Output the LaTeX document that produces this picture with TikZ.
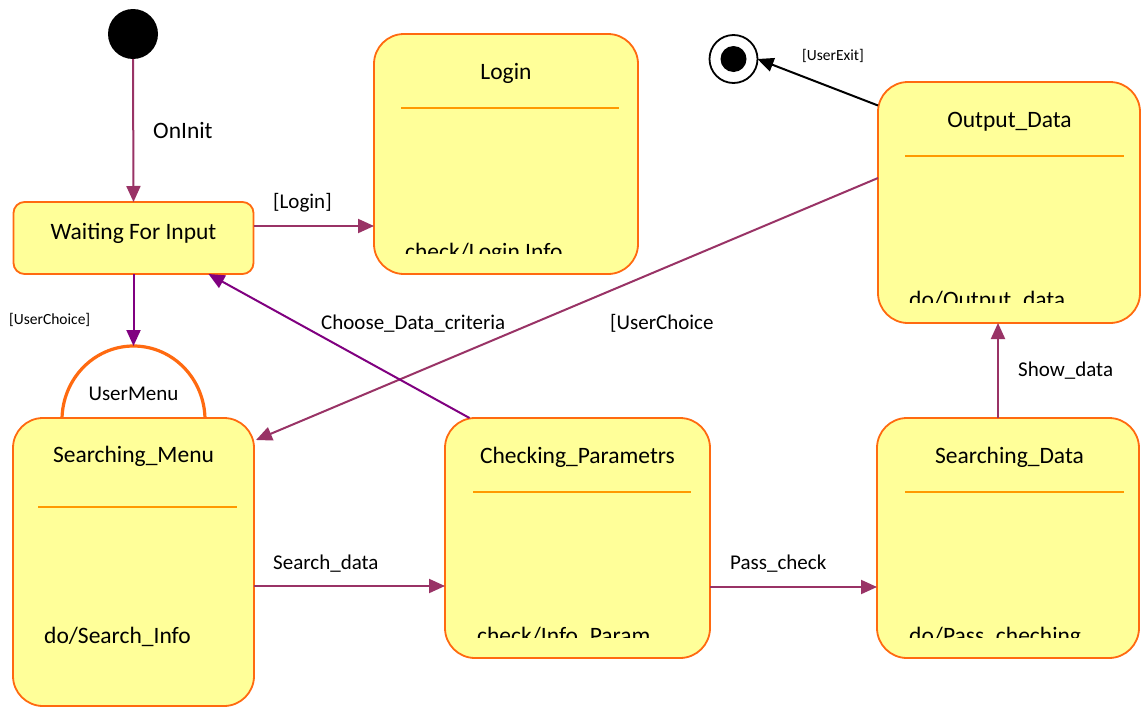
\documentclass[tikz,border=0pt]{standalone}
\usepackage{fontspec}
\setmainfont{Carlito}
\usetikzlibrary{arrows.meta,calc}
\definecolor{boxfill}{HTML}{FFFF99}
\definecolor{boxline}{HTML}{FF6A10}
\definecolor{sepline}{HTML}{FF9900}
\definecolor{arrplum}{HTML}{993366}
\definecolor{arrpurp}{HTML}{800080}
\begin{document}
\begin{tikzpicture}[x=1pt,y=-1pt,
 state/.style={draw=boxline, fill=boxfill, line width=1.8pt, rounded corners=30pt, inner sep=0pt, outer sep=0pt},
 sep/.style={draw=sepline, line width=1.6pt},
 big/.style={font=\fontsize{23.5}{28}\selectfont, inner sep=0pt},
 lbl/.style={font=\fontsize{21}{25}\selectfont, inner sep=0pt},
 small/.style={font=\fontsize{15.5}{18}\selectfont, inner sep=0pt},
 tip/.style={-{Triangle[length=16pt,width=14pt]}},
 trans/.style={draw=arrplum, line width=2pt, tip},
 transp/.style={draw=arrpurp, line width=2pt, tip},
 transk/.style={draw=black, line width=2pt, tip}]
\useasboundingbox (0,0) rectangle (1141,707);
\fill[white] (0,0) rectangle (1141,707);

% initial and final states
\node[circle, fill=black, minimum size=50pt, inner sep=0pt, outer sep=0pt] (init) at (133,34) {};
\node[circle, draw=black, line width=1.8pt, fill=white, minimum size=48pt, inner sep=0pt, outer sep=0pt] (final) at (733.5,59) {};
\fill[black] (final.center) circle (13pt);

% states
\node[state, rounded corners=11pt, minimum width=240pt, minimum height=72pt] (wait) at (133.5,238) {};
\node[state, minimum width=264pt, minimum height=240pt] (login) at (506,154) {};
\node[state, minimum width=262pt, minimum height=241pt] (output) at (1009,202.5) {};
% user menu arc
\draw[draw=boxline, line width=3.2pt, fill=white] (62,420) arc[start angle=180, end angle=0, x radius=71.5pt, y radius=74pt];
\coordinate (menutop) at (133.5,346);
\node[state, minimum width=241pt, minimum height=288pt] (smenu) at (133.5,562) {};
\node[state, minimum width=265pt, minimum height=240pt] (check) at (577.5,538) {};
\node[state, minimum width=262pt, minimum height=240pt] (sdata) at (1008,538) {};

% separators
\draw[sep] (401,108) -- (619,108);
\draw[sep] (905,156) -- (1124,156);
\draw[sep] (38,507) -- (237,507);
\draw[sep] (473,492) -- (691,492);
\draw[sep] (905,492) -- (1124,492);

% titles
\node[big, anchor=base] (twait) at (133.5,239) {Waiting For Input};
\node[big, anchor=base] (tlogin) at (506,79) {Login};
\node[big, anchor=base] (toutput) at (1009.5,127) {Output\_Data};
\node[lbl, anchor=base] (tmenu) at (133.5,400) {UserMenu};
\node[big, anchor=base] (tsmenu) at (133.5,462) {Searching\_Menu};
\node[big, anchor=base] (tcheck) at (577.5,463) {Checking\_Parametrs};
\node[big, anchor=base] (tsdata) at (1009.5,463) {Searching\_Data};

% activity texts
\node[big, anchor=base west] (asmenu) at (44,643) {do/Search\_Info};
\begin{scope}
\clip (380,230) rectangle (630,253);
\node[big, anchor=base west] (alogin) at (405,259) {check/Login Info};
\end{scope}
\begin{scope}
\clip (890,280) rectangle (1130,302);
\node[big, anchor=base west] (aoutput) at (909,307) {do/Output\_data};
\end{scope}
\begin{scope}
\clip (460,615) rectangle (700,637);
\node[big, anchor=base west] (acheck) at (477,643) {check/Info\_Param};
\end{scope}
\begin{scope}
\clip (890,615) rectangle (1130,637);
\node[big, anchor=base west] (asdata) at (909,643) {do/Pass\_cheching};
\end{scope}

% transitions
\draw[trans] (init.south) -- (wait.north);
\draw[trans] ([yshift=12pt]wait.east) -- ([yshift=12pt]wait.east -| login.west);
\draw[transk] ([yshift=97pt]output.west) -- (final.east);
\draw[trans] ([yshift=24.5pt]output.west) -- ([xshift=2pt,yshift=-22pt]smenu.north east);
\draw[transp] (wait.south) -- (menutop);
\draw[transp] ([xshift=-108pt]check.north) -- ([xshift=75pt]wait.south);
\draw[trans] ([yshift=-24pt]smenu.east) -- ([yshift=-24pt]smenu.east -| check.west);
\draw[trans] ([yshift=-49pt]check.east) -- ([yshift=-49pt]check.east -| sdata.west);
\draw[trans] ([xshift=-10pt]sdata.north) -- ([xshift=-10pt]sdata.north |- output.south);

% transition labels
\node[big, anchor=base west] (lonit) at (153,138) {OnInit};
\node[lbl, anchor=base west] (llogin) at (273,208) {[Login]};
\node[small, anchor=base west] (lexit) at (802,60) {[UserExit]};
\node[small, anchor=base west] (luc) at (9,324) {[UserChoice]};
\node[lbl, anchor=base west] (lchoose) at (321,329) {Choose\_Data\_criteria};
\node[lbl, anchor=base west] (luc2) at (610,329) {[UserChoice};
\node[lbl, anchor=base west] (lsearch) at (273,569) {Search\_data};
\node[lbl, anchor=base west] (lpass) at (730,569) {Pass\_check};
\node[lbl, anchor=base west] (lshow) at (1018,376) {Show\_data};
\end{tikzpicture}
\end{document}
